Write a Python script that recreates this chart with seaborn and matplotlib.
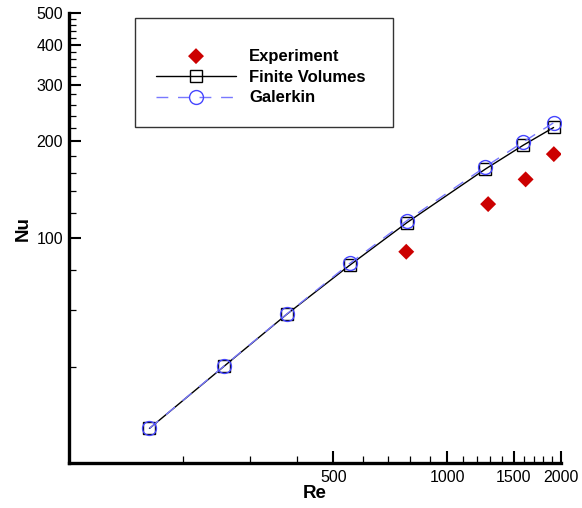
import numpy as np
import pandas as pd
import seaborn as sns
import matplotlib
matplotlib.use("Agg")
import matplotlib.pyplot as plt
from matplotlib.patches import Rectangle
from matplotlib.ticker import FixedLocator, NullFormatter, FixedFormatter

# ---- data ----
re_sim = [163, 257, 377, 553, 782, 1264, 1594, 1915]
nu_fv = [25.7, 40.1, 58.2, 82.6, 111.8, 164.2, 194.9, 221.0]
nu_gal = [25.7, 40.2, 58.3, 83.6, 113.4, 166.9, 199.5, 228.6]
re_exp = [780, 1285, 1615, 1918]
nu_exp = [90.9, 127.8, 152.5, 182.7]

x_major = [500, 1000, 1500, 2000]
x_labels = ["500", "1000", "1500", "2000"]
x_minor = [200, 300, 400, 600, 700, 800, 900, 1100, 1200, 1300, 1400,
           1600, 1700, 1800, 1900]
y_major = [100, 200, 300, 400, 500]
y_labels = ["100", "200", "300", "400", "500"]
y_minor = [40, 60, 80, 120, 140, 160, 180, 220, 240, 260, 280,
           320, 340, 360, 380, 420, 440, 460, 480]

sns.set_theme(style="white")
plt.rcParams["font.family"] = ["Liberation Sans", "DejaVu Sans"]
plt.rcParams["text.color"] = "black"

fig = plt.figure(figsize=(5.82, 5.08), dpi=100)
ax = fig.add_axes([0.1191, 0.0876, 0.9634 - 0.1191, 0.9738 - 0.0876])

df_fv = pd.DataFrame({"Re": re_sim, "Nu": nu_fv})
df_gal = pd.DataFrame({"Re": re_sim, "Nu": nu_gal})
df_exp = pd.DataFrame({"Re": re_exp, "Nu": nu_exp})

sns.scatterplot(data=df_exp, x="Re", y="Nu", ax=ax, marker="D", s=66,
                color="#cc0000", edgecolor="none", label="Experiment", zorder=3)
sns.lineplot(data=df_fv, x="Re", y="Nu", ax=ax, color="black", lw=1.0,
             marker="s", markersize=8.5, markerfacecolor="none",
             markeredgecolor="black", markeredgewidth=1.0,
             label="Finite Volumes", zorder=4)
sns.lineplot(data=df_gal, x="Re", y="Nu", ax=ax, color="#7878ff", lw=1.0,
             linestyle=(0, (8.5, 7)), marker="o", markersize=10,
             markerfacecolor="none", markeredgecolor="#4646ff",
             markeredgewidth=1.0, label="Galerkin", zorder=5)

ax.set_xscale("log")
ax.set_yscale("log")
ax.set_xlim(100, 2000)
ax.set_ylim(20, 500)

ax.xaxis.set_major_locator(FixedLocator(x_major))
ax.xaxis.set_major_formatter(FixedFormatter(x_labels))
ax.xaxis.set_minor_locator(FixedLocator(x_minor))
ax.xaxis.set_minor_formatter(NullFormatter())
ax.yaxis.set_major_locator(FixedLocator(y_major))
ax.yaxis.set_major_formatter(FixedFormatter(y_labels))
ax.yaxis.set_minor_locator(FixedLocator(y_minor))
ax.yaxis.set_minor_formatter(NullFormatter())

for s in ["top", "right"]:
    ax.spines[s].set_visible(False)
for s in ["left", "bottom"]:
    ax.spines[s].set_linewidth(2.4)
    ax.spines[s].set_color("black")

ax.tick_params(which="major", direction="in", length=8.3, width=1.5,
               color="black", labelsize=11.5, pad=4.5, labelcolor="black")
ax.tick_params(which="minor", direction="in", length=4.7, width=0.9,
               color="black")
ax.tick_params(axis="x", which="both", bottom=True)
ax.tick_params(axis="y", which="both", left=True)

ax.set_xlabel("Re", fontsize=13.5, fontweight="bold", color="black")
ax.set_ylabel("Nu", fontsize=13.5, fontweight="bold", color="black")
ax.xaxis.set_label_coords(0.5, -0.048)
ax.yaxis.set_label_coords(-0.076, 0.521)

handles, labels = ax.get_legend_handles_labels()
order = ["Experiment", "Finite Volumes", "Galerkin"]
hmap = dict(zip(labels, handles))
leg = ax.legend([hmap[k] for k in order], order, frameon=False,
                loc="upper left", bbox_to_anchor=(156 / 582, 1 - 48.5 / 508),
                bbox_transform=fig.transFigure, borderpad=0, borderaxespad=0,
                handlelength=4.8, handletextpad=0.78, labelspacing=0.36,
                prop={"weight": "bold", "size": 12}, labelcolor="black")

fig.patches.append(Rectangle((135 / 582, 1 - 127 / 508), 258 / 582, 109 / 508,
                             transform=fig.transFigure, fill=False,
                             edgecolor="#333333", lw=1.0))

fig.savefig("out.png", dpi=100)
